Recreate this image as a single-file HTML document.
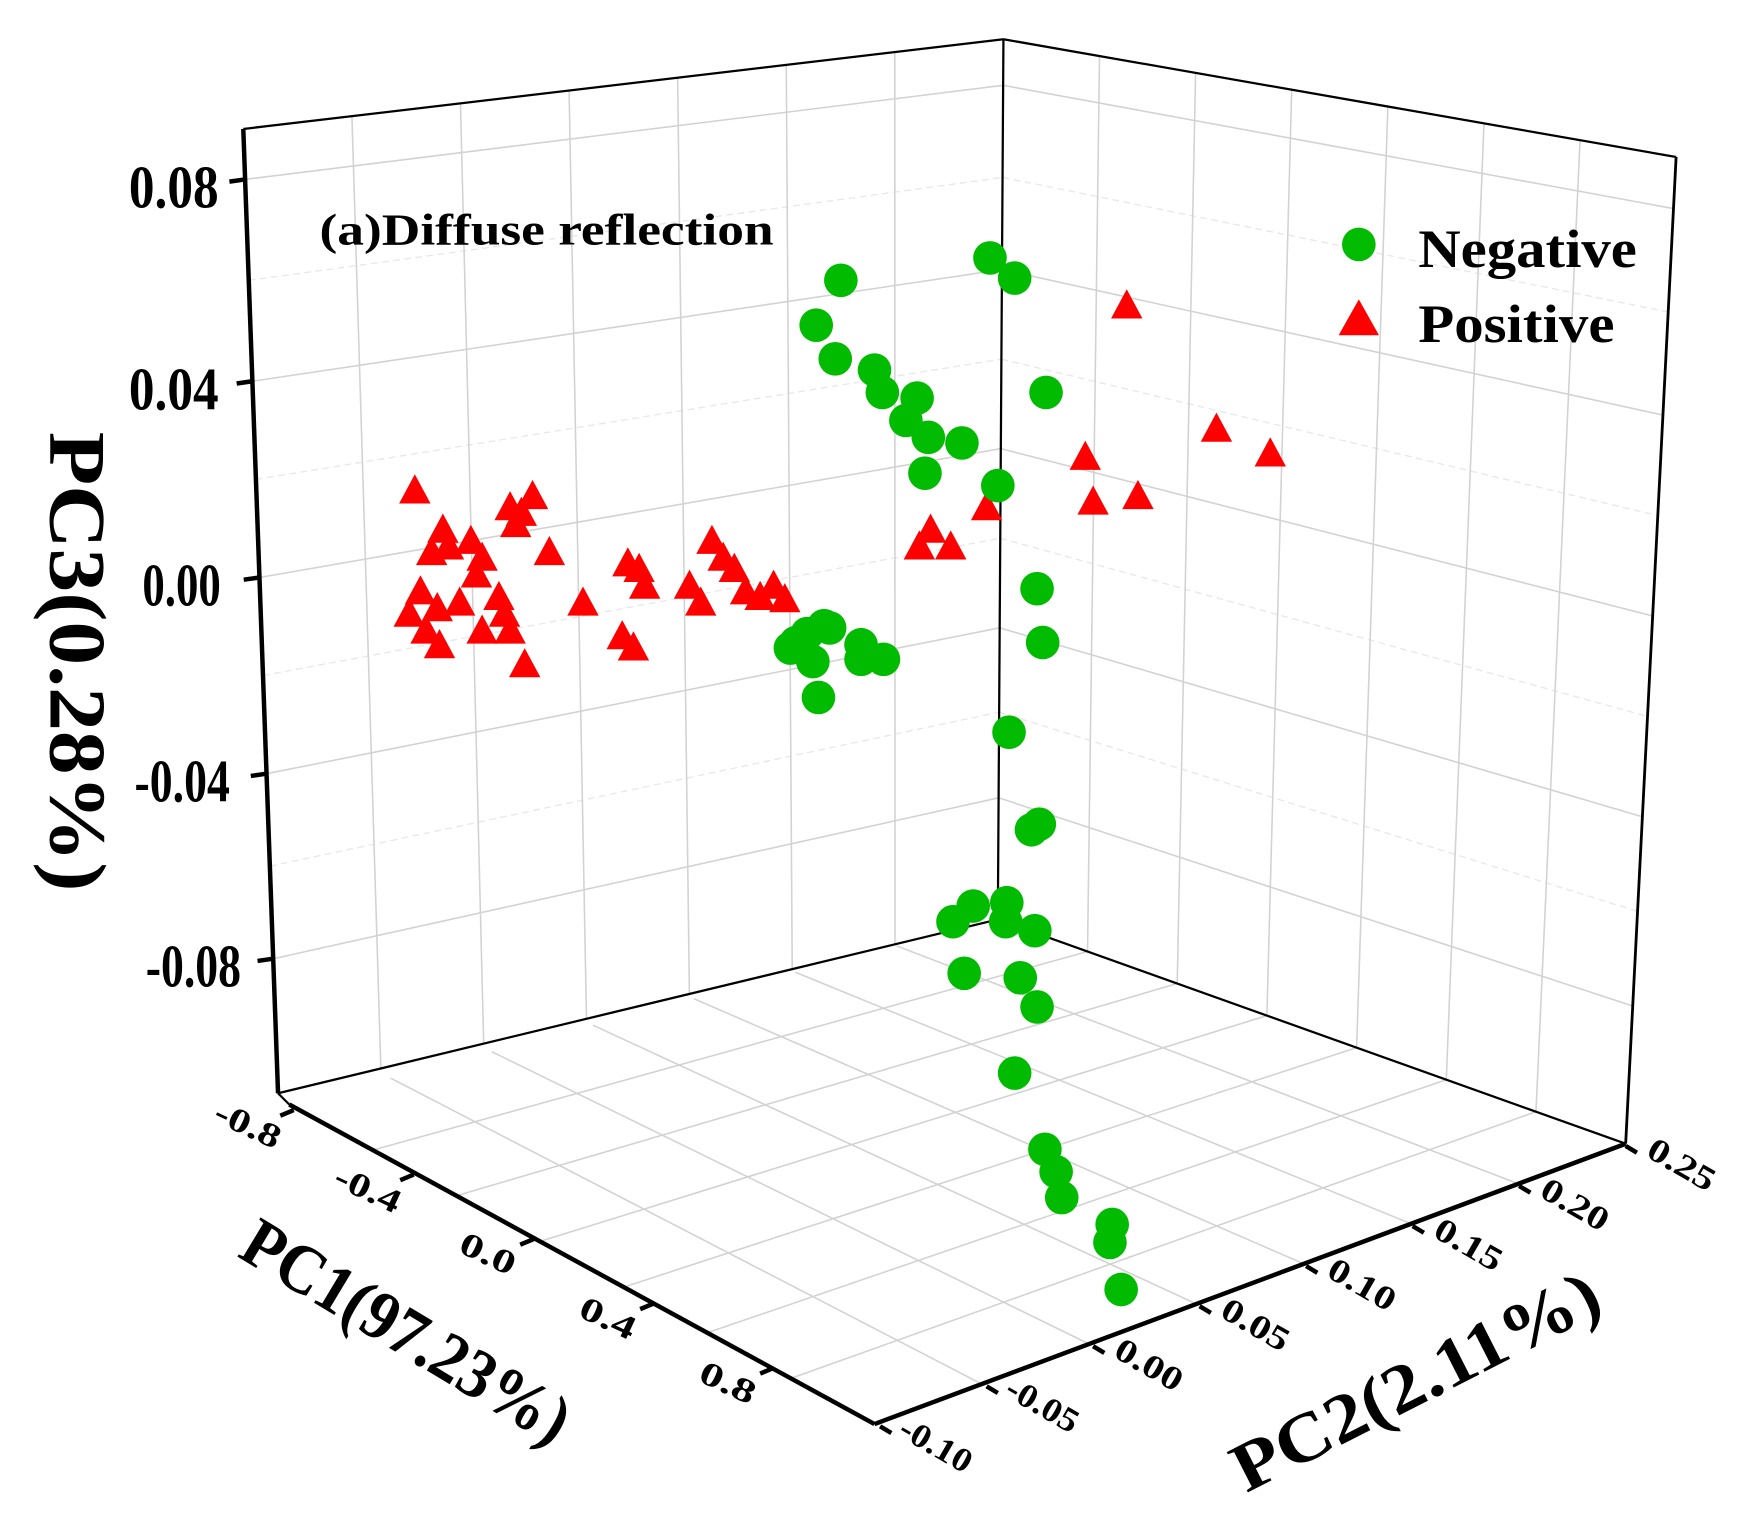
<!DOCTYPE html>
<html><head><meta charset="utf-8"><style>html,body{margin:0;padding:0;background:#fff}svg{display:block}</style></head>
<body>
<svg width="1749" height="1516" viewBox="0 0 1560 1352" preserveAspectRatio="none" xmlns="http://www.w3.org/2000/svg" xmlns:xlink="http://www.w3.org/1999/xlink" font-family="Liberation Serif, serif" font-weight="bold">
<defs>
<circle id="c" r="15" fill="#00bb00"/>
<polygon id="t" points="0,-17 14,9 -14,9" fill="#ff0000"/>
</defs>
<g stroke="#e8e8e8" stroke-width="1.2" stroke-dasharray="6,4" fill="none">
<line x1="221.9" y1="250" x2="894.2" y2="158.2"/><line x1="894.2" y1="158.2" x2="1487.9" y2="278.2"/>
<line x1="228.3" y1="427.5" x2="893.2" y2="320.3"/><line x1="893.2" y1="320.3" x2="1478.6" y2="459.8"/>
<line x1="234.6" y1="602.5" x2="892.2" y2="480"/><line x1="892.2" y1="480" x2="1469.5" y2="638.9"/>
<line x1="240.7" y1="772.5" x2="891.2" y2="635.1"/><line x1="891.2" y1="635.1" x2="1460.6" y2="812.8"/>
</g>
<g stroke="#d2d2d2" stroke-width="1.4" fill="none">
<line x1="313.9" y1="103.6" x2="339.7" y2="952.9"/>
<line x1="410.7" y1="92.1" x2="431.4" y2="930.7"/>
<line x1="507.6" y1="80.7" x2="523.1" y2="908.6"/>
<line x1="604.4" y1="69.3" x2="614.9" y2="886.4"/>
<line x1="701.3" y1="57.9" x2="706.6" y2="864.3"/>
<line x1="798.1" y1="46.4" x2="798.3" y2="842.1"/>
<line x1="980.7" y1="50" x2="970" y2="848.6"/>
<line x1="1066.4" y1="65" x2="1050" y2="877.1"/>
<line x1="1152.1" y1="80" x2="1130" y2="905.7"/>
<line x1="1237.9" y1="95" x2="1210" y2="934.3"/>
<line x1="1323.6" y1="110" x2="1290" y2="962.9"/>
<line x1="1409.3" y1="125" x2="1370" y2="991.4"/>
<line x1="348.3" y1="961.4" x2="875.7" y2="1234.3"/>
<line x1="438.6" y1="937.9" x2="971.4" y2="1198.6"/>
<line x1="528.9" y1="914.3" x2="1067.1" y2="1162.9"/>
<line x1="619.1" y1="890.7" x2="1162.9" y2="1127.1"/>
<line x1="709.4" y1="867.1" x2="1258.6" y2="1091.4"/>
<line x1="799.7" y1="843.6" x2="1354.3" y2="1055.7"/>
<line x1="332.6" y1="1025.7" x2="970" y2="848.6"/>
<line x1="407.1" y1="1066.4" x2="1050" y2="877.1"/>
<line x1="481.7" y1="1107.1" x2="1130" y2="905.7"/>
<line x1="556.3" y1="1147.9" x2="1210" y2="934.3"/>
<line x1="630.9" y1="1188.6" x2="1290" y2="962.9"/>
<line x1="705.4" y1="1229.3" x2="1370" y2="991.4"/>
<line x1="218.6" y1="160" x2="894.7" y2="76.1"/><line x1="894.7" y1="76.1" x2="1492.6" y2="186"/>
<line x1="225.1" y1="340" x2="893.7" y2="240.4"/><line x1="893.7" y1="240.4" x2="1483.2" y2="370.2"/>
<line x1="231.4" y1="515" x2="892.7" y2="400.1"/><line x1="892.7" y1="400.1" x2="1474.1" y2="549.3"/>
<line x1="237.7" y1="690" x2="891.7" y2="559.9"/><line x1="891.7" y1="559.9" x2="1464.9" y2="728.4"/>
<line x1="243.7" y1="855" x2="890.7" y2="711.5"/><line x1="890.7" y1="711.5" x2="1456.3" y2="897.2"/>
</g>
<g stroke="#000" fill="none">
<line x1="217" y1="115" x2="895" y2="35" stroke-width="2"/>
<line x1="895" y1="35" x2="1495" y2="140" stroke-width="2"/>
<line x1="1495" y1="140" x2="1450" y2="1020" stroke-width="2.5"/>
<line x1="895" y1="35" x2="890" y2="820" stroke-width="2"/>
<line x1="248" y1="975" x2="890" y2="820" stroke-width="2"/>
<line x1="890" y1="820" x2="1450" y2="1020" stroke-width="2"/>
<line x1="217" y1="115" x2="248" y2="975" stroke-width="4"/>
<line x1="258" y1="985" x2="780" y2="1270" stroke-width="4"/>
<line x1="780" y1="1270" x2="1450" y2="1020" stroke-width="4"/>
<line x1="248" y1="975" x2="258" y2="985" stroke-width="2"/>
<g stroke-width="4">
<line x1="218.6" y1="160" x2="204.6" y2="162"/>
<line x1="225.1" y1="340" x2="211.1" y2="342"/>
<line x1="231.4" y1="515" x2="217.4" y2="517"/>
<line x1="237.7" y1="690" x2="223.7" y2="692"/>
<line x1="243.7" y1="855" x2="229.7" y2="857"/>
<line x1="262" y1="990" x2="250" y2="995"/>
<line x1="369" y1="1047.5" x2="357" y2="1052.5"/>
<line x1="476" y1="1105" x2="464" y2="1110"/>
<line x1="583" y1="1162.5" x2="571" y2="1167.5"/>
<line x1="690" y1="1220" x2="678" y2="1225"/>
<line x1="785" y1="1272" x2="795" y2="1278"/>
<line x1="880" y1="1236.3" x2="890" y2="1242.3"/>
<line x1="975" y1="1200.6" x2="985" y2="1206.6"/>
<line x1="1070" y1="1164.9" x2="1080" y2="1170.9"/>
<line x1="1165" y1="1129.1" x2="1175" y2="1135.1"/>
<line x1="1260" y1="1093.4" x2="1270" y2="1099.4"/>
<line x1="1355" y1="1057.7" x2="1365" y2="1063.7"/>
<line x1="1450" y1="1022" x2="1460" y2="1028"/>
</g>
</g>
<g>
<use xlink:href="#t" x="370" y="440"/><use xlink:href="#t" x="395" y="475"/><use xlink:href="#t" x="385" y="495"/><use xlink:href="#t" x="400" y="490"/><use xlink:href="#t" x="420" y="485"/><use xlink:href="#t" x="430" y="500"/><use xlink:href="#t" x="425" y="515"/><use xlink:href="#t" x="455" y="455"/><use xlink:href="#t" x="465" y="460"/><use xlink:href="#t" x="475" y="445"/><use xlink:href="#t" x="460" y="470"/><use xlink:href="#t" x="490" y="495"/><use xlink:href="#t" x="375" y="530"/><use xlink:href="#t" x="390" y="545"/><use xlink:href="#t" x="410" y="540"/><use xlink:href="#t" x="445" y="535"/><use xlink:href="#t" x="365" y="550"/><use xlink:href="#t" x="380" y="565"/><use xlink:href="#t" x="392" y="578"/><use xlink:href="#t" x="430" y="565"/><use xlink:href="#t" x="450" y="550"/><use xlink:href="#t" x="455" y="565"/><use xlink:href="#t" x="468" y="595"/><use xlink:href="#t" x="520" y="540"/><use xlink:href="#t" x="560" y="505"/><use xlink:href="#t" x="570" y="510"/><use xlink:href="#t" x="575" y="525"/><use xlink:href="#t" x="555" y="570"/><use xlink:href="#t" x="565" y="580"/><use xlink:href="#t" x="615" y="525"/><use xlink:href="#t" x="625" y="540"/><use xlink:href="#t" x="635" y="485"/><use xlink:href="#t" x="645" y="500"/><use xlink:href="#t" x="655" y="510"/><use xlink:href="#t" x="665" y="530"/><use xlink:href="#t" x="678" y="535"/><use xlink:href="#t" x="690" y="525"/><use xlink:href="#t" x="700" y="537"/><use xlink:href="#t" x="820" y="490"/><use xlink:href="#t" x="830" y="475"/><use xlink:href="#t" x="848" y="490"/><use xlink:href="#t" x="880" y="455"/><use xlink:href="#t" x="968" y="410"/><use xlink:href="#t" x="975" y="450"/><use xlink:href="#t" x="1015" y="445"/><use xlink:href="#t" x="1085" y="385"/><use xlink:href="#t" x="1133" y="407"/><use xlink:href="#t" x="1005" y="275"/>
<use xlink:href="#c" x="883" y="230"/><use xlink:href="#c" x="905" y="248"/><use xlink:href="#c" x="750" y="250"/><use xlink:href="#c" x="728" y="290"/><use xlink:href="#c" x="745" y="320"/><use xlink:href="#c" x="780" y="330"/><use xlink:href="#c" x="787" y="350"/><use xlink:href="#c" x="818" y="355"/><use xlink:href="#c" x="808" y="375"/><use xlink:href="#c" x="828" y="390"/><use xlink:href="#c" x="858" y="395"/><use xlink:href="#c" x="825" y="422"/><use xlink:href="#c" x="890" y="433"/><use xlink:href="#c" x="933" y="350"/><use xlink:href="#c" x="925" y="525"/><use xlink:href="#c" x="930" y="573"/><use xlink:href="#c" x="900" y="653"/><use xlink:href="#c" x="920" y="740"/><use xlink:href="#c" x="927" y="735"/><use xlink:href="#c" x="850" y="822"/><use xlink:href="#c" x="868" y="808"/><use xlink:href="#c" x="898" y="805"/><use xlink:href="#c" x="897" y="822"/><use xlink:href="#c" x="923" y="830"/><use xlink:href="#c" x="860" y="868"/><use xlink:href="#c" x="910" y="872"/><use xlink:href="#c" x="925" y="898"/><use xlink:href="#c" x="905" y="957"/><use xlink:href="#c" x="932" y="1025"/><use xlink:href="#c" x="942" y="1045"/><use xlink:href="#c" x="947" y="1068"/><use xlink:href="#c" x="992" y="1092"/><use xlink:href="#c" x="990" y="1108"/><use xlink:href="#c" x="1000" y="1150"/><use xlink:href="#c" x="705" y="578"/><use xlink:href="#c" x="720" y="565"/><use xlink:href="#c" x="740" y="560"/><use xlink:href="#c" x="725" y="590"/><use xlink:href="#c" x="730" y="622"/><use xlink:href="#c" x="768" y="575"/><use xlink:href="#c" x="768" y="588"/><use xlink:href="#c" x="788" y="588"/><use xlink:href="#c" x="710" y="573"/><use xlink:href="#c" x="735" y="558"/>
</g>
<text x="285" y="218" font-size="40" textLength="405" lengthAdjust="spacingAndGlyphs">(a)Diffuse reflection</text>
<circle cx="1212" cy="218" r="15" fill="#00bb00"/>
<polygon points="1212,267 1230,299 1194,299" fill="#ff0000"/>
<text x="1265" y="238" font-size="48" textLength="195" lengthAdjust="spacingAndGlyphs">Negative</text>
<text x="1265" y="305" font-size="48" textLength="175" lengthAdjust="spacingAndGlyphs">Positive</text>
<g font-size="54" text-anchor="end">
<text x="195" y="185" textLength="80" lengthAdjust="spacingAndGlyphs">0.08</text>
<text x="195" y="365" textLength="80" lengthAdjust="spacingAndGlyphs">0.04</text>
<text x="197" y="540" textLength="70" lengthAdjust="spacingAndGlyphs">0.00</text>
<text x="205" y="715" textLength="85" lengthAdjust="spacingAndGlyphs">-0.04</text>
<text x="215" y="880" textLength="85" lengthAdjust="spacingAndGlyphs">-0.08</text>
</g>
<text transform="translate(45,590) rotate(90)" font-size="72" text-anchor="middle" textLength="410" lengthAdjust="spacingAndGlyphs">PC3(0.28%)</text>
<text transform="translate(352,1205) rotate(31)" font-size="62" text-anchor="middle" textLength="330" lengthAdjust="spacingAndGlyphs">PC1(97.23%)</text>
<text transform="translate(1272,1250) rotate(-27)" font-size="62" text-anchor="middle" textLength="360" lengthAdjust="spacingAndGlyphs">PC2(2.11%)</text>
<g font-size="30" text-anchor="middle">
<text transform="translate(217,1012) rotate(25)" textLength="62" lengthAdjust="spacingAndGlyphs">-0.8</text>
<text transform="translate(324,1069.5) rotate(25)" textLength="62" lengthAdjust="spacingAndGlyphs">-0.4</text>
<text transform="translate(431,1127) rotate(25)" textLength="52" lengthAdjust="spacingAndGlyphs">0.0</text>
<text transform="translate(538,1184.5) rotate(25)" textLength="52" lengthAdjust="spacingAndGlyphs">0.4</text>
<text transform="translate(645,1242) rotate(25)" textLength="52" lengthAdjust="spacingAndGlyphs">0.8</text>
<text transform="translate(830,1297) rotate(30)" textLength="70" lengthAdjust="spacingAndGlyphs">-0.10</text>
<text transform="translate(925,1261.3) rotate(30)" textLength="70" lengthAdjust="spacingAndGlyphs">-0.05</text>
<text transform="translate(1020,1225.6) rotate(30)" textLength="65" lengthAdjust="spacingAndGlyphs">0.00</text>
<text transform="translate(1115,1189.9) rotate(30)" textLength="65" lengthAdjust="spacingAndGlyphs">0.05</text>
<text transform="translate(1210,1154.1) rotate(30)" textLength="65" lengthAdjust="spacingAndGlyphs">0.10</text>
<text transform="translate(1305,1118.4) rotate(30)" textLength="65" lengthAdjust="spacingAndGlyphs">0.15</text>
<text transform="translate(1400,1082.7) rotate(30)" textLength="65" lengthAdjust="spacingAndGlyphs">0.20</text>
<text transform="translate(1495,1047) rotate(30)" textLength="65" lengthAdjust="spacingAndGlyphs">0.25</text>
</g>
</svg>
</body></html>
